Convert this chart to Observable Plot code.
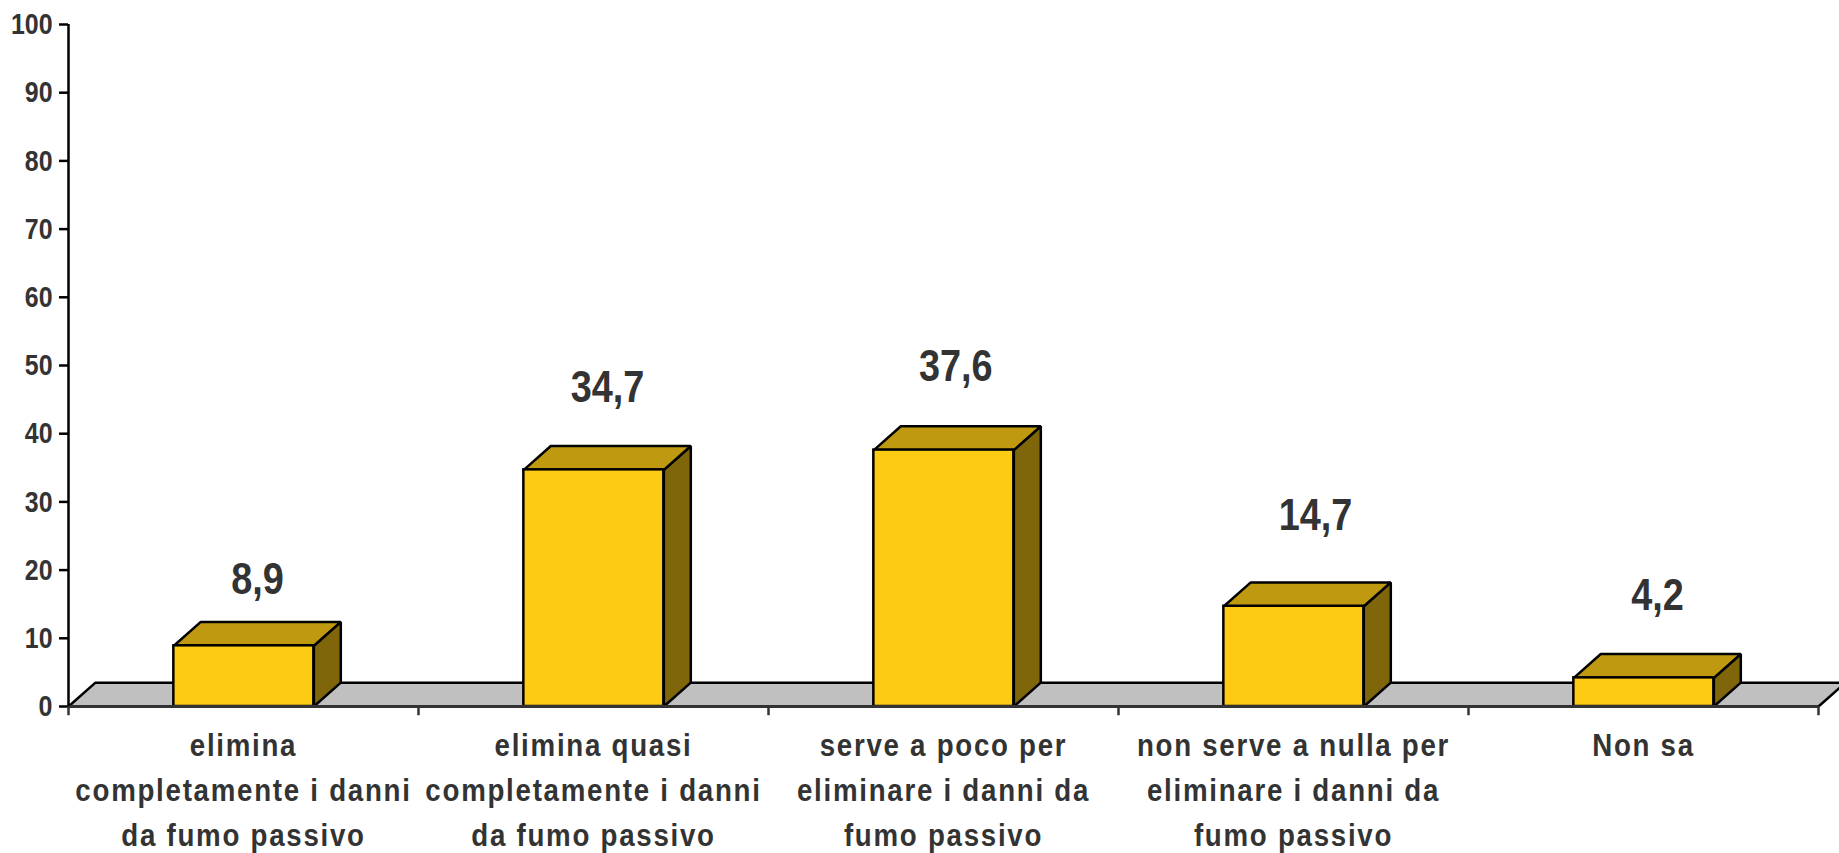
<!DOCTYPE html>
<html>
<head>
<meta charset="utf-8">
<script src="https://cdn.jsdelivr.net/npm/d3@7"></script>
<script src="https://cdn.jsdelivr.net/npm/@observablehq/plot@0.6"></script>
<style>html,body{margin:0;padding:0;background:#fff;overflow:hidden}svg{display:block}</style>
</head>
<body>
<div id="chart"></div>
<script>
const categories = [
  "elimina\ncompletamente i danni\nda fumo passivo",
  "elimina quasi\ncompletamente i danni\nda fumo passivo",
  "serve a poco per\neliminare i danni da\nfumo passivo",
  "non serve a nulla per\neliminare i danni da\nfumo passivo",
  "Non sa"
];
const values = [8.9, 34.7, 37.6, 14.7, 4.2];
const valueLabels = ["8,9", "34,7", "37,6", "14,7", "4,2"];
const yTicks = [0, 10, 20, 30, 40, 50, 60, 70, 80, 90, 100];
const xTicks = [0, 1, 2, 3, 4, 5];

// label placement, in axis units
const labelLift = [9.7, 12, 12.2, 13.2, 12];
const labelShift = [0.04, 0.04, 0.035, 0.063, 0.04];

// pseudo-3D depth and bar width, in axis units
const depthX = 0.077, depthY = 3.5, half = 0.2, barCentre = 0.501;

const bars = values.map((v, i) => ({i, v, c: i + 0.5, l: i + barCentre - half, r: i + barCentre + half}));
const poly = (fn) => bars.flatMap(b => fn(b).map(([x, y]) => ({id: b.i, x, y})));
const topFaces = poly(b => [[b.l, b.v], [b.r, b.v], [b.r + depthX, b.v + depthY], [b.l + depthX, b.v + depthY], [b.l, b.v]]);
const sideFaces = poly(b => [[b.r, 0], [b.r, b.v], [b.r + depthX, b.v + depthY], [b.r + depthX, depthY], [b.r, 0]]);
const floorFace = [[0, 0], [depthX, depthY], [5 + depthX, depthY], [5, 0], [0, 0]].map(([x, y]) => ({x, y}));

const font = '"Liberation Sans",Arial,sans-serif';
const edge = {stroke: "#000", strokeWidth: 2.5, strokeLinejoin: "miter", curve: "linear"};

const plot = Plot.plot({
  width: 1839,
  height: 853,
  marginTop: 24, marginRight: 21, marginBottom: 147, marginLeft: 68,
  style: {fontFamily: font, fontWeight: "bold", background: "#fff", overflow: "hidden"},
  x: {type: "linear", domain: [0, 5], axis: null},
  y: {type: "linear", domain: [0, 100], axis: null},
  marks: [
    Plot.line(floorFace, {x: "x", y: "y", fill: "#c0c0c0", ...edge}),
    Plot.line(sideFaces, {x: "x", y: "y", z: "id", fill: "#7f660a", ...edge}),
    Plot.line(topFaces, {x: "x", y: "y", z: "id", fill: "#bf9a10", ...edge}),
    Plot.rect(bars, {x1: "l", x2: "r", y1: 0, y2: "v", fill: "#fecb14", ...edge}),
    Plot.ruleY([0], {x1: 0, x2: 5, stroke: "#333", strokeWidth: 3}),
    Plot.ruleX([0], {y1: 0, y2: 100, stroke: "#000", strokeWidth: 2.5}),
    Plot.axisY({
      ticks: yTicks, anchor: "left", tickSize: 9, tickPadding: 7, label: null,
      stroke: "#000", strokeWidth: 2.5, fill: "#333", color: "#333",
      fontSize: 30, fontWeight: "bold", tickFormat: d => String(d)
    }),
    Plot.ruleX(xTicks, {x: d => d, y1: 0, y2: -1.35, stroke: "#333", strokeWidth: 2.5}),
    Plot.text(bars, {
      x: b => b.c + labelShift[b.i], y: b => b.v + labelLift[b.i], text: b => valueLabels[b.i],
      fill: "#333", fontSize: 44, fontWeight: "bold", lineAnchor: "middle", className: "vals"
    }),
    Plot.text(bars, {
      x: "c", y: 0, text: b => categories[b.i], dy: 17,
      fill: "#333", fontSize: 32, fontWeight: "bold", lineAnchor: "top", lineHeight: 1.41,
      className: "cats"
    })
  ]
});
document.getElementById("chart").appendChild(plot);

// The reference's type is a condensed Arial: narrow the real text in place.
function narrow(selection, ratio) {
  selection.each(function () {
    const len = this.getComputedTextLength();
    this.setAttribute("textLength", (len * ratio).toFixed(1));
    this.setAttribute("lengthAdjust", "spacingAndGlyphs");
  });
}
const root = d3.select(plot);
root.selectAll("g.cats").style("letter-spacing", "2px");
narrow(root.selectAll("g.vals text"), 0.86);
narrow(root.selectAll('g[aria-label="y-axis tick label"] text'), 0.83);
narrow(root.selectAll("g.cats tspan"), 0.865);
root.selectAll("g.cats text").filter(function () { return !this.querySelector("tspan"); }).call(narrow, 0.865);
</script>
</body>
</html>
